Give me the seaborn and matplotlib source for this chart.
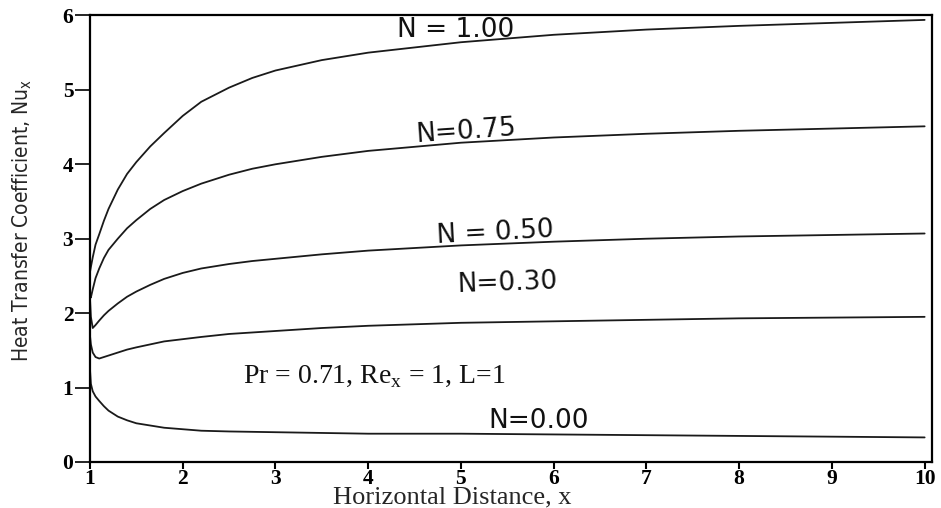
import pandas as pd
import seaborn as sns
import matplotlib.pyplot as plt

# horizontal distance samples (denser near the leading edge)
x_vals = [1.0, 1.01, 1.03, 1.06, 1.1, 1.15, 1.2, 1.3, 1.4, 1.5, 1.65, 1.8,
          2.0, 2.2, 2.5, 2.75, 3.0, 3.5, 4.0, 5.0, 6.0, 7.0, 8.0, 9.0, 10.0]

nu_n100 = [2.55, 2.62, 2.75, 2.92, 3.06, 3.24, 3.40, 3.66, 3.87, 4.03, 4.24, 4.42,
           4.65, 4.84, 5.03, 5.16, 5.26, 5.40, 5.50, 5.64, 5.74, 5.81, 5.86, 5.90, 5.94]
nu_n075 = [2.25, 2.21, 2.32, 2.47, 2.60, 2.74, 2.85, 3.00, 3.14, 3.25, 3.40, 3.52,
           3.64, 3.74, 3.86, 3.94, 4.00, 4.10, 4.18, 4.29, 4.36, 4.41, 4.45, 4.48, 4.51]
nu_n050 = [2.20, 1.95, 1.80, 1.84, 1.90, 1.97, 2.03, 2.13, 2.22, 2.29, 2.38, 2.46,
           2.54, 2.60, 2.66, 2.70, 2.73, 2.79, 2.84, 2.91, 2.96, 3.00, 3.03, 3.05, 3.07]
nu_n030 = [1.70, 1.58, 1.47, 1.41, 1.39, 1.41, 1.43, 1.47, 1.51, 1.54, 1.58, 1.62,
           1.65, 1.68, 1.72, 1.74, 1.76, 1.80, 1.83, 1.87, 1.89, 1.91, 1.93, 1.94, 1.95]
nu_n000 = [1.25, 1.05, 0.95, 0.88, 0.82, 0.75, 0.69, 0.61, 0.56, 0.52, 0.49, 0.46,
           0.44, 0.42, 0.41, 0.405, 0.40, 0.39, 0.38, 0.38, 0.37, 0.36, 0.35, 0.34, 0.33]

series = {"1.00": nu_n100, "0.75": nu_n075, "0.50": nu_n050,
          "0.30": nu_n030, "0.00": nu_n000}

# curve labels: text, x, y, rotation
curve_labels = [("N = 1.00", 4.94, 5.80, 0),
                ("N=0.75", 5.05, 4.44, 4),
                ("N = 0.50", 5.37, 3.08, 3),
                ("N=0.30", 5.50, 2.40, 2),
                ("N=0.00", 5.84, 0.55, 0)]

rows = []
for n, vals in series.items():
    for xv, yv in zip(x_vals, vals):
        rows.append({"x": xv, "Nu": yv, "N": n})
df = pd.DataFrame(rows)

sns.set_style("ticks")
fig = plt.figure(figsize=(9.41, 5.08), dpi=100)
ax = fig.add_axes([0.0956, 0.0906, 0.8944, 0.879])

sns.lineplot(data=df, x="x", y="Nu", hue="N", palette=["#1a1a1a"] * 5,
             estimator=None, linewidth=1.3, legend=False, ax=ax)

ax.set_xlim(1, 10.075)
ax.set_ylim(0, 6)
ax.set_xticks(range(1, 11))
ax.set_yticks(range(0, 7))

for s in ax.spines.values():
    s.set_visible(True)
    s.set_color("black")
    s.set_linewidth(1.6)

ax.tick_params(axis="x", bottom=True, direction="out", length=5, width=1.5, pad=0,
               colors="black")
ax.tick_params(axis="y", left=True, direction="out", length=11, width=1.2, pad=1,
               colors="black")
for lab in ax.get_xticklabels() + ax.get_yticklabels():
    lab.set_family(["Liberation Serif", "DejaVu Serif"])
    lab.set_fontweight("bold")
    lab.set_fontsize(15.5)

for txt, tx, ty, rot in curve_labels:
    ax.text(tx, ty, txt, ha="center", va="center", rotation=rot,
            fontsize=19, family=["DejaVu Sans"], color="#111")

ax.text(4.06, 1.14, r"Pr = 0.71, Re$_\mathregular{x}$ = 1, L=1", ha="center", va="center",
        fontsize=20, family=["Liberation Serif", "DejaVu Serif"], color="#111")

xl = ax.set_xlabel("Horizontal Distance, x", fontsize=19,
                   family=["Liberation Serif", "DejaVu Serif"])
xl.set_va("baseline")
ax.xaxis.set_label_coords(0.43, -0.093)
ax.set_ylabel(r"Heat Transfer Coefficient, Nu$_\mathregular{x}$", fontsize=15,
              family=["DejaVu Sans"], fontstretch="condensed")
ax.yaxis.set_label_coords(-0.066, 0.54)

fig.savefig("out.png", dpi=100)
